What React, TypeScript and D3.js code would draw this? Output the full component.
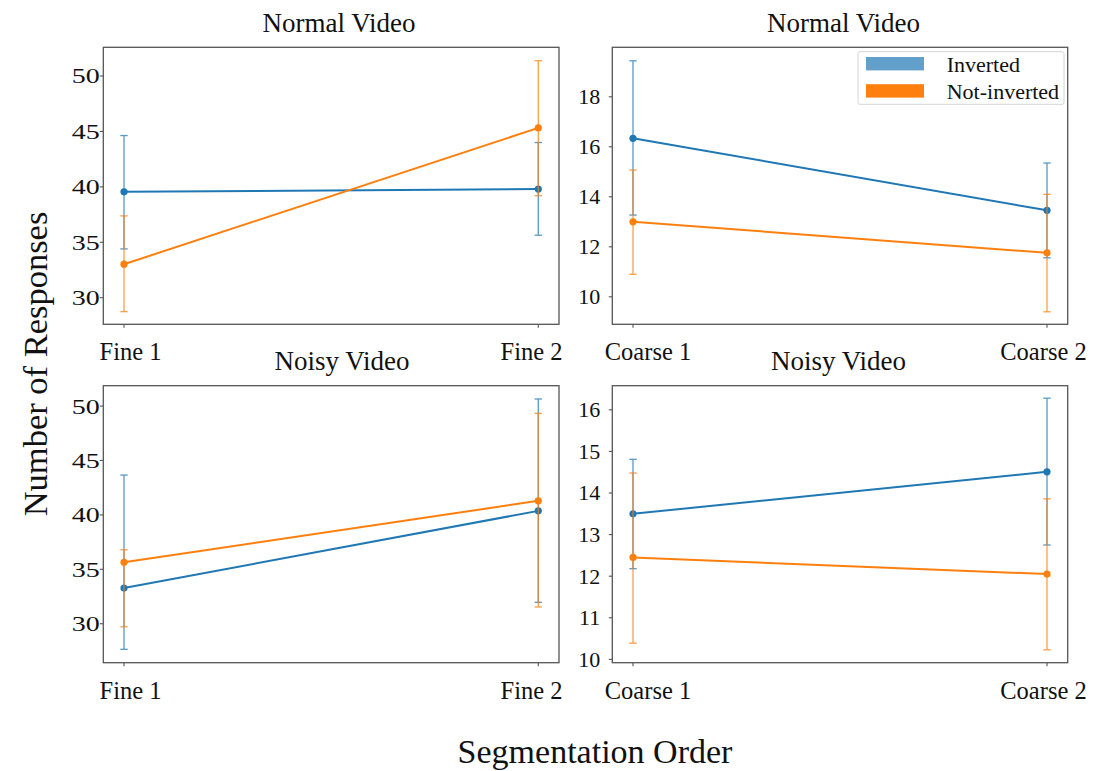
import React from "react";
import * as d3 from "d3";

// ---------- data ----------
const fineCats = ["Fine 1", "Fine 2"];
const coarseCats = ["Coarse 1", "Coarse 2"];
const seriesNames = ["Inverted", "Not-inverted"];

// Normal video, fine
const normalFineInvMean = [39.55, 39.8];
const normalFineInvLo = [34.4, 35.64];
const normalFineInvHi = [44.63, 44.0];
const normalFineNotMean = [33.02, 45.32];
const normalFineNotLo = [28.74, 39.2];
const normalFineNotHi = [37.38, 51.38];

// Normal video, coarse
const normalCoarseInvMean = [16.34, 13.46];
const normalCoarseInvLo = [13.27, 11.56];
const normalCoarseInvHi = [19.44, 15.35];
const normalCoarseNotMean = [13.0, 11.76];
const normalCoarseNotLo = [10.9, 9.4];
const normalCoarseNotHi = [15.07, 14.1];

// Noisy video, fine
const noisyFineInvMean = [33.28, 40.37];
const noisyFineInvLo = [27.65, 31.97];
const noisyFineInvHi = [43.66, 50.65];
const noisyFineNotMean = [35.64, 41.29];
const noisyFineNotLo = [29.72, 31.54];
const noisyFineNotHi = [36.8, 49.33];

// Noisy video, coarse
const noisyCoarseInvMean = [13.5, 14.51];
const noisyCoarseInvLo = [12.18, 12.75];
const noisyCoarseInvHi = [14.81, 16.28];
const noisyCoarseNotMean = [12.45, 12.05];
const noisyCoarseNotLo = [10.39, 10.23];
const noisyCoarseNotHi = [14.48, 13.86];

const fineTicks = [30, 35, 40, 45, 50];
const normalCoarseTicks = [10, 12, 14, 16, 18];
const noisyCoarseTicks = [10, 11, 12, 13, 14, 15, 16];

const titles = ["Normal Video", "Normal Video", "Noisy Video", "Noisy Video"];

// ---------- layout ----------
const W = 1098;
const H = 771;
const FONT = "'Liberation Serif', 'Times New Roman', serif";
const COLORS = ["#1f77b4", "#ff7f0e"];
const LEGEND_COLORS = ["#62a0cb", "#ff7f0e"];
const FRAME = "#555555";

const colX = [
  [103.3, 559],
  [612.3, 1067.7],
];
const rowY = [
  [47.3, 324.3],
  [385.7, 662.7],
];

type Series = { mean: number[]; lo: number[]; hi: number[] };
type Panel = {
  col: number;
  row: number;
  title: string;
  titleX: number;
  cats: string[];
  labelDx: number[];
  domain: [number, number];
  ticks: number[];
  tickLabelGap: number;
  tickTextLength?: number;
  series: Series[];
  legend?: boolean;
};

const panels: Panel[] = [
  {
    col: 0, row: 0, title: titles[0], titleX: 339,
    cats: fineCats, labelDx: [6.5, -6.8],
    domain: [27.6, 52.59], ticks: fineTicks, tickLabelGap: 3.5, tickTextLength: 28,
    series: [
      { mean: normalFineInvMean, lo: normalFineInvLo, hi: normalFineInvHi },
      { mean: normalFineNotMean, lo: normalFineNotLo, hi: normalFineNotHi },
    ],
  },
  {
    col: 1, row: 0, title: titles[1], titleX: 843.5,
    cats: coarseCats, labelDx: [15, -3.5],
    domain: [8.9, 19.98], ticks: normalCoarseTicks, tickLabelGap: 12,
    series: [
      { mean: normalCoarseInvMean, lo: normalCoarseInvLo, hi: normalCoarseInvHi },
      { mean: normalCoarseNotMean, lo: normalCoarseNotLo, hi: normalCoarseNotHi },
    ],
    legend: true,
  },
  {
    col: 0, row: 1, title: titles[2], titleX: 342,
    cats: fineCats, labelDx: [6.5, -6.8],
    domain: [26.42, 51.87], ticks: fineTicks, tickLabelGap: 3.5, tickTextLength: 28,
    series: [
      { mean: noisyFineInvMean, lo: noisyFineInvLo, hi: noisyFineInvHi },
      { mean: noisyFineNotMean, lo: noisyFineNotLo, hi: noisyFineNotHi },
    ],
  },
  {
    col: 1, row: 1, title: titles[3], titleX: 838.5,
    cats: coarseCats, labelDx: [15, -3.5],
    domain: [9.92, 16.58], ticks: noisyCoarseTicks, tickLabelGap: 12,
    series: [
      { mean: noisyCoarseInvMean, lo: noisyCoarseInvLo, hi: noisyCoarseInvHi },
      { mean: noisyCoarseNotMean, lo: noisyCoarseNotLo, hi: noisyCoarseNotHi },
    ],
  },
];

function PanelView({ p }: { p: Panel }) {
  const [x0, x1] = colX[p.col];
  const [y0, y1] = rowY[p.row];
  const x = d3.scalePoint<string>().domain(p.cats).range([x0, x1]).padding(0.05);
  const y = d3.scaleLinear().domain(p.domain).range([y1, y0]);
  const line = d3
    .line<number>()
    .x((_, i) => x(p.cats[i]) as number)
    .y((d) => y(d));
  const capHalf = 3.7;

  return (
    <g>
      {/* title */}
      <text
        x={p.titleX}
        y={p.row === 0 ? 31.7 : 370}
        textAnchor="middle"
        fontSize={27}
        fontFamily={FONT}
        fill="#111"
      >
        {p.title}
      </text>

      {/* series */}
      {p.series.map((s, si) => (
        <g key={si}>
          {s.mean.map((_, i) => {
            const cx = x(p.cats[i]) as number;
            return (
              <g key={i} stroke={COLORS[si]} strokeWidth={1.3} opacity={0.75}>
                <line x1={cx} x2={cx} y1={y(s.lo[i])} y2={y(s.hi[i])} />
                <line x1={cx - capHalf} x2={cx + capHalf} y1={y(s.lo[i])} y2={y(s.lo[i])} />
                <line x1={cx - capHalf} x2={cx + capHalf} y1={y(s.hi[i])} y2={y(s.hi[i])} />
              </g>
            );
          })}
          <path d={line(s.mean) || ""} fill="none" stroke={COLORS[si]} strokeWidth={2} />
          {s.mean.map((v, i) => (
            <circle key={i} cx={x(p.cats[i]) as number} cy={y(v)} r={3.6} fill={COLORS[si]} />
          ))}
        </g>
      ))}

      {/* frame */}
      <rect x={x0} y={y0} width={x1 - x0} height={y1 - y0} fill="none" stroke={FRAME} strokeWidth={1.3} />

      {/* y ticks */}
      {p.ticks.map((t) => (
        <g key={t}>
          <line x1={x0 - 3.5} x2={x0} y1={y(t)} y2={y(t)} stroke={FRAME} strokeWidth={1.1} />
          <text
            x={x0 - p.tickLabelGap}
            y={y(t)}
            dy="0.34em"
            textAnchor="end"
            fontSize={22}
            fontFamily={FONT}
            fill="#111"
            {...(p.tickTextLength
              ? { textLength: p.tickTextLength, lengthAdjust: "spacingAndGlyphs" }
              : {})}
          >
            {t}
          </text>
        </g>
      ))}

      {/* x ticks */}
      {p.cats.map((c, i) => {
        const cx = x(c) as number;
        return (
          <g key={c}>
            <line x1={cx} x2={cx} y1={y1} y2={y1 + 3.5} stroke={FRAME} strokeWidth={1.1} />
            <text
              x={cx + p.labelDx[i]}
              y={y1 + 36}
              textAnchor="middle"
              fontSize={24.5}
              fontFamily={FONT}
              fill="#111"
            >
              {c}
            </text>
          </g>
        );
      })}

      {/* legend */}
      {p.legend && (
        <g>
          <rect x={858} y={51.7} width={206} height={52.6} fill="#fff" stroke="#d4d4d4" strokeWidth={1} rx={2} />
          {seriesNames.map((n, i) => (
            <g key={n}>
              <rect x={866} y={57 + i * 27.2} width={58} height={13.4} fill={LEGEND_COLORS[i]} />
              <text x={946.7} y={71.5 + i * 27} fontSize={22} fontFamily={FONT} fill="#111">
                {n}
              </text>
            </g>
          ))}
        </g>
      )}
    </g>
  );
}

export default function App() {
  return (
    <svg
      width={W}
      height={H}
      viewBox={`0 0 ${W} ${H}`}
      style={{ position: "absolute", left: 0, top: 0, background: "#fff" }}
    >
      <rect x={0} y={0} width={W} height={H} fill="#fff" />
      {panels.map((p, i) => (
        <PanelView key={i} p={p} />
      ))}
      <text
        transform="translate(46.5,364) rotate(-90)"
        textAnchor="middle"
        fontSize={34.5}
        fontFamily={FONT}
        fill="#111"
      >
        Number of Responses
      </text>
      <text x={595} y={763} textAnchor="middle" fontSize={34} fontFamily={FONT} fill="#111">
        Segmentation Order
      </text>
    </svg>
  );
}
